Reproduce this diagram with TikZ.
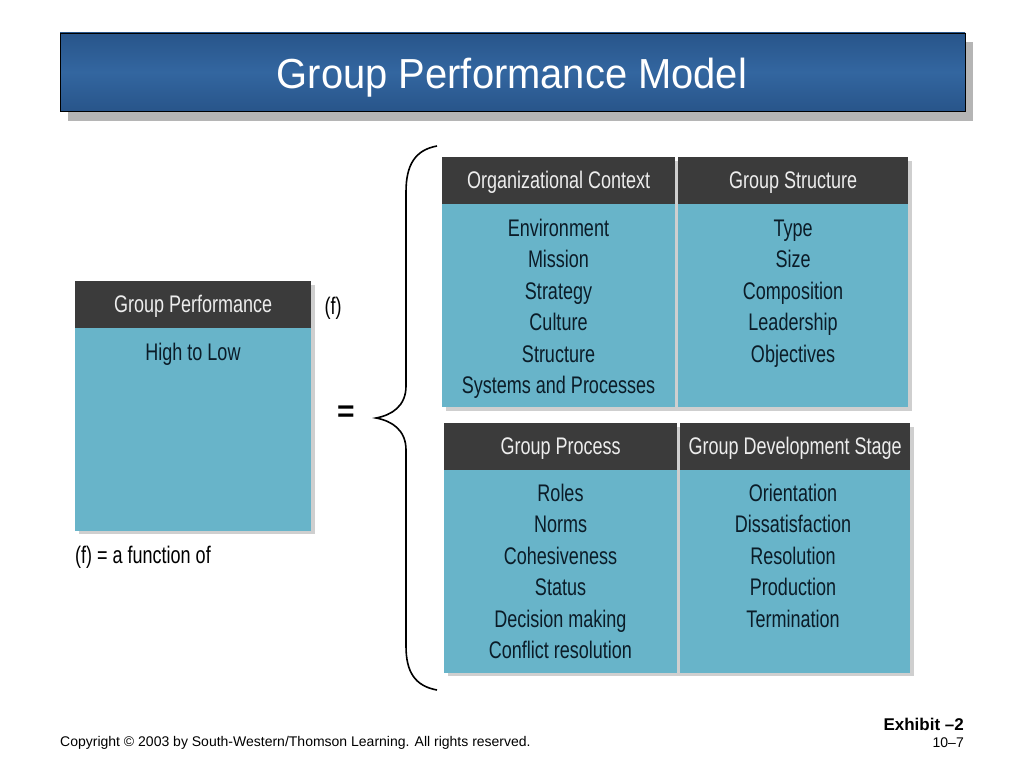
\documentclass[tikz,border=0pt]{standalone}
\usepackage{fontspec}
\setmainfont{Liberation Sans}
\newfontfamily\condfont[FakeStretch=0.75]{Liberation Sans}
\newfontfamily\titlefont[FakeStretch=0.95]{Liberation Sans}
\usetikzlibrary{positioning}

\definecolor{titleblue}{HTML}{3366A0}
\definecolor{titledark}{HTML}{28558A}
\definecolor{shadowgray}{HTML}{B5B5B5}
\definecolor{cellshadow}{HTML}{CFCFCF}
\definecolor{headgray}{HTML}{3B3B3B}
\definecolor{cellteal}{HTML}{68B4C9}
\definecolor{bodytext}{HTML}{0B1C28}
\definecolor{headtext}{HTML}{EDEDED}

\tikzset{
    x=1pt, y=-1pt, % pixel coordinates, y downwards
    headbox/.style={fill=headgray, text=headtext, minimum height=47pt, inner sep=0pt,
        text height=18pt, text depth=2pt,
        anchor=north west, font=\condfont\fontsize{24}{24}\selectfont}, % dark title row
    cellbox/.style={fill=cellteal, minimum height=203pt, inner sep=0pt, anchor=north west}, % teal body
    itemtext/.style={text=bodytext, inner sep=0pt, anchor=base, font=\condfont\fontsize{24}{24}\selectfont}, % list entries
    notetext/.style={text=black, inner sep=0pt, anchor=base, font=\condfont\fontsize{24}{24}\selectfont},
}

\begin{document}
\begin{tikzpicture}
\useasboundingbox (0,0) rectangle (1024,768);
\fill[white] (0,0) rectangle (1024,768);

% title bar
\fill[shadowgray] (68,42) rectangle (973,121);
\node[draw=black, line width=0.8pt, top color=titledark, bottom color=titledark, middle color=titleblue,
    minimum width=905pt, minimum height=78pt, inner sep=0pt] (title) at (512.5,72) {};
\node[anchor=base, inner sep=0pt, text=white, font=\titlefont\fontsize{42}{42}\selectfont]
    (titletext) at (512,88) {Group Performance Model};

% left box
\fill[cellshadow] (79,285) rectangle (315,534);
\node[headbox, minimum width=236pt] (gph) at (75,281) {Group Performance};
\node[cellbox, minimum width=236pt] (gpb) at (75,328) {};
\node[itemtext] (gp1) at (193,360) {High to Low};
\node[notetext] (fn) at (333,314) {(f)};
\node[notetext, anchor=base west] (fdef) at (75,563) {(f) = a function of};
\node[inner sep=0pt, font=\bfseries\fontsize{30}{30}\selectfont] (eq) at (346,414) {=};

% brace
\draw[line width=1.6pt] (437,146) .. controls (415,150) and (406,165) .. (406,192)
    -- (406,386) .. controls (406,406) and (392,415) .. (376,418)
    .. controls (392,421) and (406,430) .. (406,450)
    -- (406,646) .. controls (406,672) and (415,686) .. (437,690);

% upper table
\fill[cellshadow] (446,161) rectangle (912,411);
\node[headbox, minimum width=233pt] (och) at (442,157) {Organizational Context};
\node[headbox, minimum width=230pt] (gsh) at (678,157) {Group Structure};
\node[cellbox, minimum width=233pt] (ocb) at (442,204) {};
\node[cellbox, minimum width=230pt] (gsb) at (678,204) {};
\foreach \txt [count=\i] in {Environment, Mission, Strategy, Culture, Structure, Systems and Processes}
    \node[itemtext] (oc\i) at (558.5,{236+31.5*(\i-1)}) {\txt};
\foreach \txt [count=\i] in {Type, Size, Composition, Leadership, Objectives}
    \node[itemtext] (gs\i) at (793,{236+31.5*(\i-1)}) {\txt};

% lower table
\fill[cellshadow] (448,427) rectangle (914,676);
\node[headbox, minimum width=233pt] (gprh) at (444,423) {Group Process};
\node[headbox, minimum width=230pt] (gdh) at (680,423) {Group Development Stage};
\node[cellbox, minimum width=233pt] (gprb) at (444,470) {};
\node[cellbox, minimum width=230pt] (gdb) at (680,470) {};
\foreach \txt [count=\i] in {Roles, Norms, Cohesiveness, Status, Decision making, Conflict resolution}
    \node[itemtext] (gpr\i) at (560.5,{501+31.5*(\i-1)}) {\txt};
\foreach \txt [count=\i] in {Orientation, Dissatisfaction, Resolution, Production, Termination}
    \node[itemtext] (gd\i) at (793,{501+31.5*(\i-1)}) {\txt};

% footer
\node[anchor=west, inner sep=0pt, font=\fontsize{14}{14}\selectfont] (copy) at (60,743)
    {Copyright \textcopyright{} 2003 by South-Western/Thomson Learning. All rights reserved.};
\node[anchor=east, inner sep=0pt, font=\bfseries\fontsize{17}{17}\selectfont] (exh) at (964,724) {Exhibit –2};
\node[anchor=east, inner sep=0pt, font=\fontsize{14}{14}\selectfont] (page) at (964,743) {10–7};
\end{tikzpicture}
\end{document}
